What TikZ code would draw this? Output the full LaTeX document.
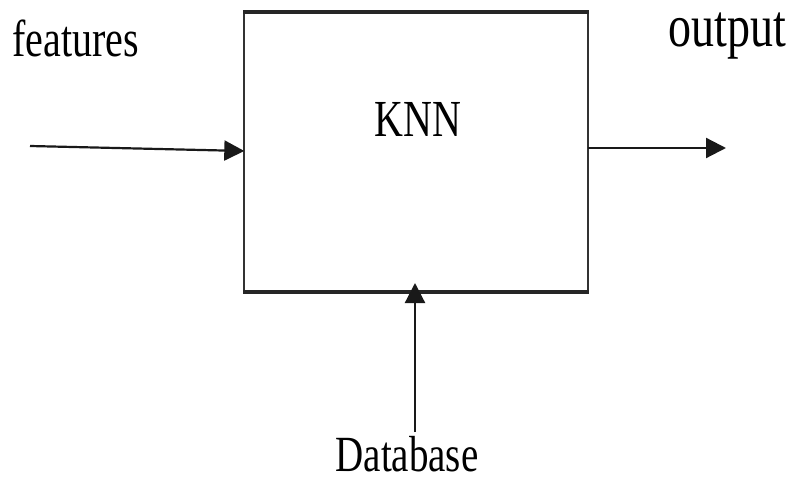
\documentclass[tikz,border=0pt]{standalone}
\usepackage{fontspec}
\setmainfont{Liberation Serif}
\usetikzlibrary{arrows.meta}
% tall serif lettering used for every label
\newcommand{\talltext}[2][40]{\scalebox{1}[1.3]{\fontsize{#1}{#1}\selectfont #2}}
\begin{document}
\begin{tikzpicture}[x=1pt,y=-1pt,
  lbl/.style={inner sep=0pt,anchor=base},
  flow/.style={line width=2.2pt,color=black!90,-{Triangle[length=20pt,width=20pt]}}]
\useasboundingbox (0,0) rectangle (792,478);
% block
\node[draw=none,minimum width=343pt,minimum height=280pt,inner sep=0pt] (knn) at (416,152) {};
\draw[line width=2.2pt,black!80] (knn.north west) -- (knn.south west);
\draw[line width=2.2pt,black!80] (knn.north east) -- (knn.south east);
\draw[line width=4.5pt,black!85] ([xshift=-1.1pt]knn.north west) -- ([xshift=1.1pt]knn.north east);
\draw[line width=4pt,black!85] ([xshift=-1.1pt]knn.south west) -- ([xshift=1.1pt]knn.south east);
\node[lbl] (name) at (418,137) {\talltext{KNN}};
% labels
\node[lbl] (feat) at (75.5,57) {\talltext{features}};
\node[lbl] (out) at (727,47) {\talltext[46]{output}};
\node[lbl,text depth=0pt] (db) at (407,471) {\talltext[39]{Database}};
% connectors
\coordinate (fin) at (30,146);
\coordinate (fout) at (726,148);
\coordinate (dbtop) at (415,432);
\draw[flow] (fin) -- (knn.west |- 0,151);
\draw[flow] (knn.east |- 0,148) -- (fout);
\draw[flow] (dbtop) -- (415,283);
\end{tikzpicture}
\end{document}
